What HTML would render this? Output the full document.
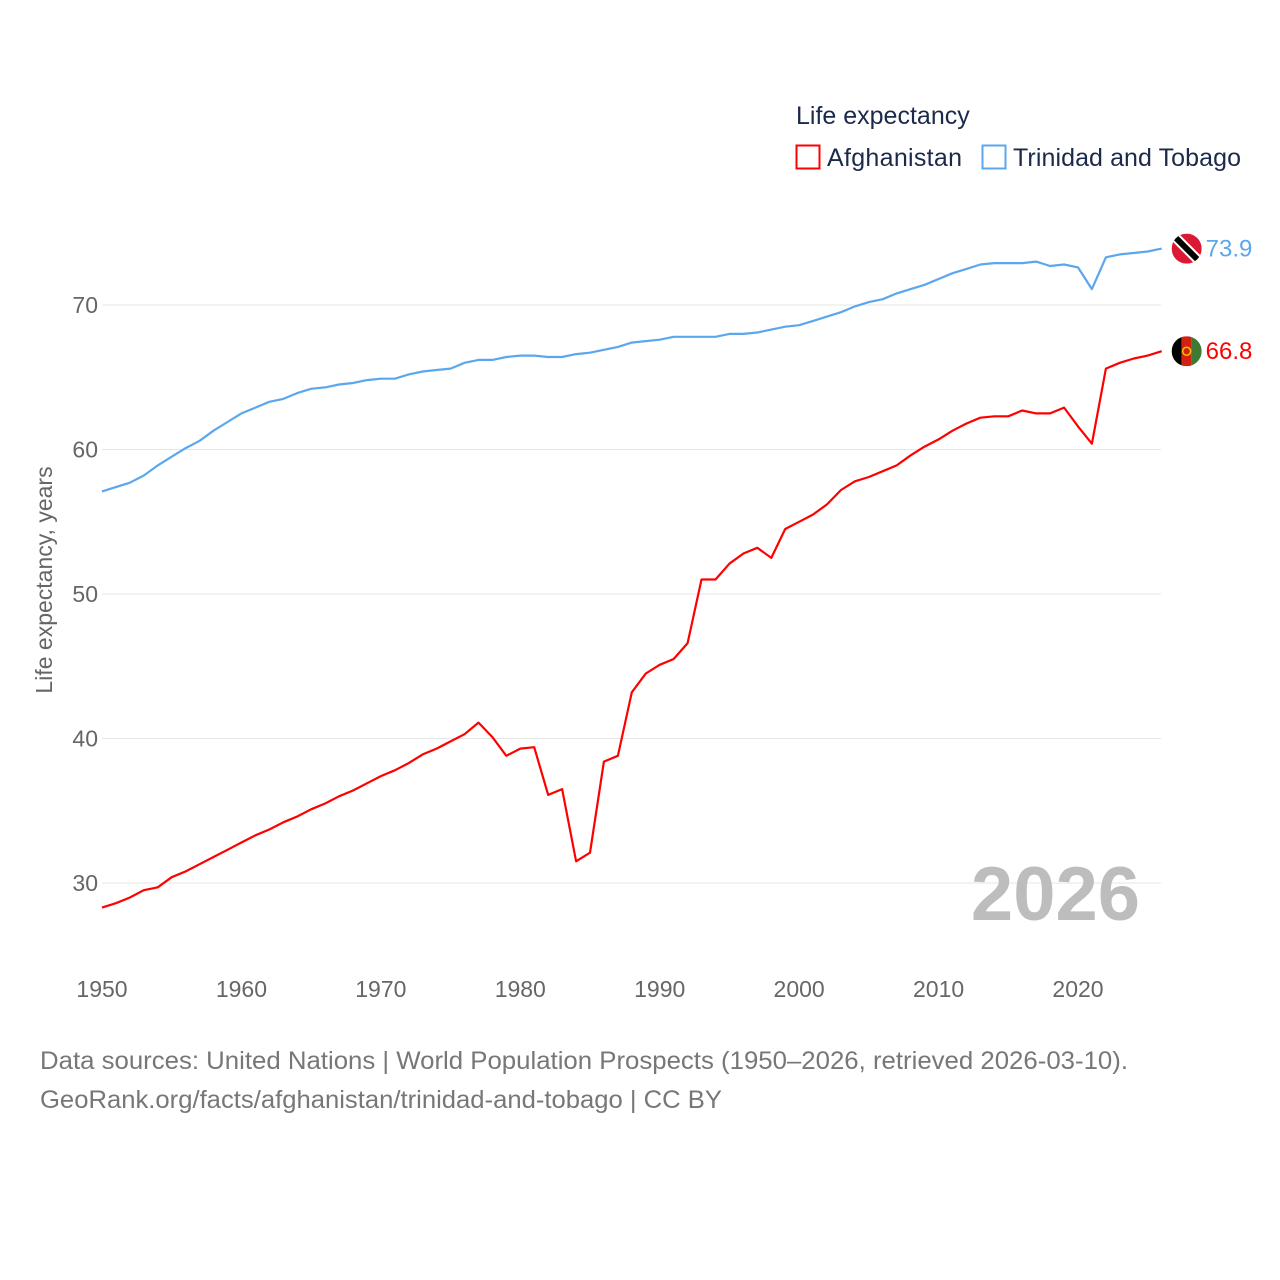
<!DOCTYPE html>
<html><head><meta charset="utf-8"><style>
body{margin:0;background:#fff}
svg{display:block;font-family:"Liberation Sans",sans-serif}
</style></head><body>
<svg id="chart" width="1280" height="1280" viewBox="0 0 1280 1280">
<g id="grid"></g>
<g id="yticks"></g>
<g id="xticks"></g>
<text x="52" y="580" transform="rotate(-90 52 580)" text-anchor="middle" font-size="23" fill="#666">Life expectancy, years</text>
<text x="1140" y="920" text-anchor="end" font-size="76" font-weight="bold" fill="#bdbdbd">2026</text>
<g id="series"></g>
<g>
<text x="796" y="124" font-size="25" fill="#1b2a4a">Life expectancy</text>
<g>
<rect x="796.5" y="145.5" width="23" height="23" fill="none" stroke="#ff0000" stroke-width="2"/>
<text x="827" y="166" font-size="25" fill="#1b2a4a" textLength="135">Afghanistan</text></g>
<g>
<rect x="982.5" y="145.5" width="23" height="23" fill="none" stroke="#5ba7ee" stroke-width="2"/>
<text x="1013" y="166" font-size="25" fill="#1b2a4a" textLength="228">Trinidad and Tobago</text></g>
</g>
<text x="40" y="1069" font-size="25" fill="#777" textLength="1088" lengthAdjust="spacingAndGlyphs">Data sources: United Nations | World Population Prospects (1950–2026, retrieved 2026-03-10).</text>
<text x="40" y="1108" font-size="25" fill="#777" textLength="682" lengthAdjust="spacingAndGlyphs">GeoRank.org/facts/afghanistan/trinidad-and-tobago | CC BY</text>
</svg>
<script>
const years = [];
for (let y = 1950; y <= 2026; y++) years.push(y);
const afghanistan = [28.3,28.6,29.0,29.5,29.7,30.4,30.8,31.3,31.8,32.3,32.8,33.3,33.7,34.2,34.6,35.1,35.5,36.0,36.4,36.9,37.4,37.8,38.3,38.9,39.3,39.8,40.3,41.1,40.1,38.8,39.3,39.4,36.1,36.5,31.5,32.1,38.4,38.8,43.2,44.5,45.1,45.5,46.6,51.0,51.0,52.1,52.8,53.2,52.5,54.5,55.0,55.5,56.2,57.2,57.8,58.1,58.5,58.9,59.6,60.2,60.7,61.3,61.8,62.2,62.3,62.3,62.7,62.5,62.5,62.9,61.6,60.4,65.6,66.0,66.3,66.5,66.8];
const trinidad = [57.1,57.4,57.7,58.2,58.9,59.5,60.1,60.6,61.3,61.9,62.5,62.9,63.3,63.5,63.9,64.2,64.3,64.5,64.6,64.8,64.9,64.9,65.2,65.4,65.5,65.6,66.0,66.2,66.2,66.4,66.5,66.5,66.4,66.4,66.6,66.7,66.9,67.1,67.4,67.5,67.6,67.8,67.8,67.8,67.8,68.0,68.0,68.1,68.3,68.5,68.6,68.9,69.2,69.5,69.9,70.2,70.4,70.8,71.1,71.4,71.8,72.2,72.5,72.8,72.9,72.9,72.9,73.0,72.7,72.8,72.6,71.1,73.3,73.5,73.6,73.7,73.9];
const yTicks = [30,40,50,60,70];
const xTicks = [1950,1960,1970,1980,1990,2000,2010,2020];
const NS = "http://www.w3.org/2000/svg";
const X = yr => 102 + (yr - 1950) * (1078 - 102) / 70;
const Y = v => 305 + (70 - v) * (883 - 305) / 40;
function mk(tag, attrs, parent){const e=document.createElementNS(NS,tag);for(const k in attrs)e.setAttribute(k,attrs[k]);parent.appendChild(e);return e;}
const grid=document.getElementById('grid'), yt=document.getElementById('yticks'), xt=document.getElementById('xticks'), ser=document.getElementById('series');
yTicks.forEach(v=>{
  const l=mk('line',{x1:102,x2:1161,y1:Y(v),y2:Y(v),stroke:'#e6e6e6','stroke-width':1},grid);
  
  
  const t=mk('text',{x:98,y:Y(v)+8,'text-anchor':'end','font-size':23,fill:'#666'},yt);
  t.textContent=v;
  
  
});
xTicks.forEach(v=>{
  const t=mk('text',{x:X(v),y:997,'text-anchor':'middle','font-size':23,fill:'#666'},xt);
  t.textContent=v;
  
  
});
function line(data,color,name){
  const d=data.map((v,i)=>(i?'L':'M')+X(years[i]).toFixed(1)+','+Y(v).toFixed(1)).join('');
  const p=mk('path',{d:d,fill:'none',stroke:color,'stroke-width':2.2,'stroke-linejoin':'round'},ser);
  
  
  const last=data[data.length-1], cx=X(years[years.length-1])+25, cy=Y(last);
  const t=mk('text',{x:cx+19,y:cy+8,'font-size':24,fill:color},ser);
  t.textContent=last.toFixed(1);
  
  
  return [cx,cy];
}
const [ax,ay]=line(afghanistan,'#ff0000','afghanistan');
const [tx,ty]=line(trinidad,'#5ba7ee','trinidad');
const fa=mk('g',{},ser);


mk('clipPath',{id:'ca'},fa).appendChild((()=>{const c=document.createElementNS(NS,'circle');c.setAttribute('cx',ax);c.setAttribute('cy',ay);c.setAttribute('r',15);return c;})());
const ga=mk('g',{'clip-path':'url(#ca)'},fa);
mk('rect',{x:ax-15,y:ay-15,width:10,height:30,fill:'#000'},ga);
mk('rect',{x:ax-5,y:ay-15,width:10,height:30,fill:'#d32011'},ga);
mk('rect',{x:ax+5,y:ay-15,width:10,height:30,fill:'#3e7a33'},ga);
mk('circle',{cx:ax,cy:ay,r:4,fill:'none',stroke:'#f5c400','stroke-width':1.5},fa);
const ft=mk('g',{},ser);


mk('clipPath',{id:'ct'},ft).appendChild((()=>{const c=document.createElementNS(NS,'circle');c.setAttribute('cx',tx);c.setAttribute('cy',ty);c.setAttribute('r',15);return c;})());
const gt=mk('g',{'clip-path':'url(#ct)'},ft);
mk('rect',{x:tx-15,y:ty-15,width:30,height:30,fill:'#da1a35'},gt);
mk('line',{x1:tx-15,y1:ty-15,x2:tx+15,y2:ty+15,stroke:'#fff','stroke-width':10},gt);
mk('line',{x1:tx-15,y1:ty-15,x2:tx+15,y2:ty+15,stroke:'#000','stroke-width':6},gt);
</script>
</body></html>
